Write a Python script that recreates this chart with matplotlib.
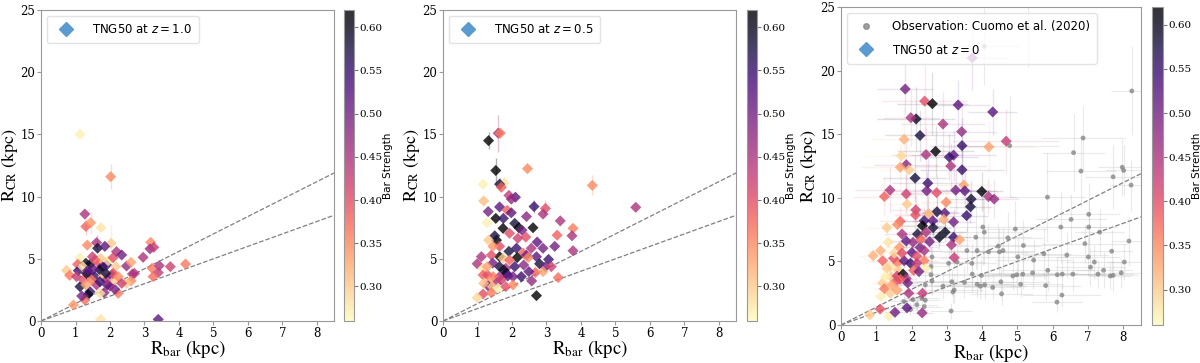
import matplotlib
matplotlib.use("Agg")
import matplotlib.pyplot as plt
from matplotlib.colors import Normalize
from matplotlib.lines import Line2D

plt.rcParams["font.family"] = "DejaVu Serif"
plt.rcParams["mathtext.fontset"] = "dejavusans"

# ---------------------------------------------------------------- TNG50 z=1.0
z1_rbar = [1.13, 2.02, 1.27, 1.30, 1.44, 1.74, 1.34, 1.61, 2.03, 1.64,
           1.85, 1.13, 1.06, 1.30, 1.42, 0.74, 0.83, 1.08, 1.69, 1.77,
           1.90, 1.95, 2.09, 2.19, 2.34, 2.48, 2.61, 2.17, 2.96, 3.18,
           3.16, 3.27, 3.22, 3.43, 3.40, 3.25, 3.75, 4.19, 2.71, 2.65,
           2.61, 2.48, 2.24, 2.14, 2.00, 1.92, 1.83, 1.71, 1.42, 1.37,
           1.27, 1.18, 0.94, 1.73, 3.40, 1.13, 1.23, 1.40, 1.56, 1.71,
           1.80, 1.90, 2.05, 2.14, 1.61, 1.47, 1.32, 1.03, 1.73, 1.56,
           1.52, 1.71, 2.09, 1.88, 1.30, 1.21, 1.49, 1.35, 2.24, 2.34]
z1_rcr = [15.0, 11.6, 8.6, 7.6, 7.9, 7.5, 6.1, 6.3, 6.25, 5.85,
          6.0, 5.07, 4.56, 4.64, 4.56, 4.07, 3.67, 4.05, 4.64, 4.37,
          4.5, 4.85, 5.09, 5.58, 5.31, 4.42, 4.72, 4.37, 5.12, 6.33,
          5.8, 5.92, 4.24, 4.45, 3.89, 3.57, 4.37, 4.58, 3.83, 3.78,
          3.22, 3.03, 2.23, 2.55, 2.8, 2.9, 2.28, 2.23, 2.36, 2.14,
          1.69, 2.01, 1.29, 0.13, 0.13, 2.76, 3.30, 3.83, 3.57, 4.10,
          3.57, 3.30, 3.70, 3.30, 2.90, 3.30, 3.83, 3.57, 5.04, 4.9,
          4.16, 3.16, 3.83, 3.83, 2.90, 4.37, 5.17, 4.05, 3.57, 3.03]
z1_strength = [0.27, 0.35, 0.45, 0.38, 0.34, 0.28, 0.35, 0.45, 0.30, 0.58,
               0.52, 0.27, 0.38, 0.60, 0.60, 0.30, 0.36, 0.55, 0.40, 0.52,
               0.55, 0.28, 0.40, 0.45, 0.50, 0.47, 0.33, 0.30, 0.45, 0.35,
               0.47, 0.43, 0.36, 0.45, 0.43, 0.37, 0.42, 0.36, 0.44, 0.45,
               0.35, 0.30, 0.36, 0.50, 0.47, 0.52, 0.48, 0.28, 0.55, 0.60,
               0.37, 0.50, 0.34, 0.28, 0.52, 0.58, 0.40, 0.45, 0.55, 0.60,
               0.30, 0.45, 0.52, 0.30, 0.45, 0.36, 0.60, 0.43, 0.30, 0.38,
               0.52, 0.55, 0.40, 0.58, 0.33, 0.28, 0.42, 0.52, 0.35, 0.42]
z1_err_rbar = [2.02, 1.44, 1.30, 2.03, 1.61]
z1_err_rcr = [11.6, 7.9, 7.6, 6.25, 6.3]
z1_err_dy = [1.0, 0.9, 0.7, 1.5, 0.6]
z1_err_strength = [0.35, 0.34, 0.38, 0.30, 0.45]

# ---------------------------------------------------------------- TNG50 z=0.5
z05_rbar = [1.32, 1.60, 1.66, 1.53, 2.45, 4.33, 5.59, 1.16, 1.77, 1.64,
            1.69, 1.18, 1.31, 1.28, 1.64, 1.91, 2.10, 1.98, 1.86, 1.98,
            1.53, 1.75, 2.64, 2.97, 2.42, 2.90, 3.40, 2.08, 2.20, 1.74,
            2.61, 2.29, 3.77, 3.31, 3.74, 2.40, 2.73, 2.17, 1.93, 1.55,
            1.50, 2.13, 2.56, 2.90, 3.24, 3.77, 2.32, 2.42, 2.71, 2.15,
            1.91, 1.64, 1.40, 1.11, 0.99, 1.16, 1.16, 1.29, 1.44, 1.64,
            1.82, 2.08, 2.34, 2.47, 3.06, 2.80, 2.97, 3.14, 2.68, 2.90,
            2.49, 2.57, 2.27, 2.03, 1.84, 1.64, 1.45, 1.35, 1.55, 1.31,
            1.43, 1.60, 1.82, 2.03, 1.16, 0.99, 1.40, 3.34, 2.71, 1.28,
            1.74, 1.64, 1.93, 1.45, 1.32, 1.76, 1.88, 1.69, 1.18]
z05_rcr = [14.5, 15.1, 15.1, 12.1, 12.25, 10.9, 9.14, 11.0, 11.1, 11.0,
           10.75, 9.65, 8.8, 7.9, 9.17, 10.1, 9.95, 9.8, 8.9, 8.7,
           8.25, 8.25, 9.2, 9.05, 8.4, 8.6, 8.05, 7.85, 7.5, 7.45,
           7.5, 7.3, 7.45, 6.9, 6.85, 6.75, 6.35, 6.65, 7.05, 6.5,
           6.85, 5.85, 5.85, 5.85, 6.0, 5.65, 5.45, 5.3, 5.17, 5.1,
           5.6, 5.17, 5.3, 5.17, 4.6, 4.24, 3.7, 3.7, 4.65, 4.37,
           4.24, 4.37, 4.5, 5.1, 4.95, 4.6, 4.37, 4.37, 3.9, 3.97,
           3.97, 3.22, 3.57, 3.57, 3.83, 3.57, 3.57, 3.16, 3.03, 2.82,
           2.76, 2.63, 2.76, 2.9, 2.17, 1.88, 2.28, 3.49, 2.04, 4.37,
           5.04, 6.0, 4.9, 6.0, 6.5, 4.1, 3.62, 3.30, 3.03]
z05_strength = [0.62, 0.45, 0.36, 0.62, 0.35, 0.35, 0.45, 0.27, 0.28, 0.58,
                0.38, 0.31, 0.50, 0.27, 0.52, 0.43, 0.52, 0.47, 0.38, 0.52,
                0.62, 0.55, 0.55, 0.40, 0.48, 0.45, 0.45, 0.58, 0.62, 0.62,
                0.62, 0.50, 0.36, 0.38, 0.45, 0.40, 0.52, 0.42, 0.40, 0.62,
                0.58, 0.55, 0.45, 0.50, 0.50, 0.45, 0.38, 0.50, 0.52, 0.62,
                0.58, 0.62, 0.40, 0.45, 0.45, 0.28, 0.38, 0.40, 0.50, 0.58,
                0.45, 0.55, 0.48, 0.35, 0.55, 0.58, 0.50, 0.42, 0.38, 0.33,
                0.52, 0.47, 0.55, 0.50, 0.55, 0.45, 0.36, 0.33, 0.45, 0.50,
                0.30, 0.27, 0.40, 0.35, 0.40, 0.29, 0.36, 0.37, 0.62, 0.33,
                0.30, 0.40, 0.38, 0.34, 0.30, 0.60, 0.52, 0.42, 0.31]
z05_err_rbar = [1.60, 1.53, 1.32, 4.33, 2.97, 2.64, 1.77, 1.64]
z05_err_rcr = [15.1, 12.1, 14.5, 10.9, 9.05, 9.2, 11.1, 11.0]
z05_err_dy = [1.5, 1.0, 0.7, 0.8, 0.7, 0.5, 0.6, 0.5]
z05_err_strength = [0.45, 0.62, 0.62, 0.35, 0.40, 0.55, 0.28, 0.58]

# ---------------------------------------------------------------- TNG50 z=0
z0_rbar = [3.72, 1.82, 2.37, 2.59, 3.32, 4.30, 2.13, 1.98, 2.24, 2.89,
           3.42, 3.43, 4.68, 4.19, 1.79, 2.68, 2.41, 3.19, 3.07, 1.71,
           1.85, 1.68, 1.93, 3.11, 3.43, 2.10, 2.46, 3.48, 1.39, 1.23,
           1.85, 3.99, 4.18, 4.34, 3.25, 3.51, 3.69, 3.67, 3.56, 2.71,
           2.43, 2.98, 1.87, 2.12, 2.72, 2.94, 2.48, 2.11, 2.36, 2.60,
           3.19, 2.91, 1.68, 1.60, 1.30, 1.73, 2.17, 2.31, 2.41, 2.61,
           2.79, 2.95, 3.19, 3.36, 3.13, 3.21, 1.85, 2.04, 2.24, 2.01,
           2.15, 2.36, 2.36, 1.66, 1.34, 1.12, 0.91, 1.18, 1.40, 1.61,
           1.79, 1.97, 2.15, 2.40, 1.62, 1.30, 1.42, 1.59, 1.76, 1.85,
           1.68, 1.57, 1.89, 1.44, 1.18, 1.23, 1.40, 1.59, 1.92, 2.31,
           1.11, 1.36, 1.53, 1.87, 2.30, 0.82, 1.14, 1.26, 2.06, 2.21,
           1.49, 2.26, 2.51, 1.51, 1.73]
z0_rcr = [21.0, 18.55, 17.6, 17.4, 17.3, 16.75, 16.2, 16.3, 14.9, 15.8,
          15.2, 14.1, 14.45, 14.0, 14.6, 13.65, 13.4, 13.35, 13.2, 13.3,
          12.6, 12.4, 12.2, 12.5, 12.2, 11.55, 11.15, 11.0, 10.6, 10.1,
          10.3, 10.5, 10.1, 9.9, 10.6, 10.55, 9.9, 9.3, 8.6, 10.4,
          10.55, 9.65, 9.5, 9.05, 8.9, 8.8, 8.75, 8.65, 8.2, 8.2,
          8.1, 8.3, 8.15, 7.9, 7.65, 7.15, 7.15, 7.8, 7.3, 7.65,
          6.9, 7.3, 6.9, 6.7, 6.3, 5.3, 6.6, 6.5, 6.1, 5.7,
          5.4, 5.05, 5.85, 6.1, 6.5, 5.85, 5.45, 5.05, 4.6, 4.9,
          5.05, 4.85, 4.85, 4.45, 4.3, 4.45, 3.8, 3.85, 4.0, 3.65,
          3.6, 3.45, 3.3, 3.15, 3.3, 2.85, 2.5, 2.75, 2.5, 2.5,
          1.25, 0.7, 1.0, 1.35, 0.95, 0.8, 2.25, 3.8, 4.3, 4.2,
          5.25, 6.75, 6.55, 5.65, 5.65]
z0_strength = [0.50, 0.50, 0.40, 0.62, 0.52, 0.52, 0.60, 0.45, 0.58, 0.45,
               0.47, 0.55, 0.43, 0.33, 0.32, 0.62, 0.45, 0.52, 0.55, 0.29,
               0.48, 0.33, 0.30, 0.45, 0.55, 0.58, 0.55, 0.33, 0.45, 0.38,
               0.42, 0.62, 0.45, 0.47, 0.50, 0.52, 0.58, 0.58, 0.55, 0.40,
               0.50, 0.35, 0.30, 0.42, 0.58, 0.52, 0.32, 0.40, 0.55, 0.52,
               0.50, 0.32, 0.38, 0.35, 0.30, 0.45, 0.58, 0.62, 0.45, 0.58,
               0.60, 0.60, 0.55, 0.33, 0.45, 0.43, 0.52, 0.47, 0.50, 0.52,
               0.40, 0.36, 0.45, 0.34, 0.28, 0.32, 0.32, 0.38, 0.28, 0.36,
               0.52, 0.55, 0.43, 0.27, 0.30, 0.30, 0.30, 0.42, 0.62, 0.45,
               0.38, 0.40, 0.50, 0.33, 0.30, 0.36, 0.30, 0.33, 0.45, 0.43,
               0.40, 0.27, 0.50, 0.52, 0.47, 0.30, 0.27, 0.27, 0.38, 0.50,
               0.40, 0.38, 0.50, 0.29, 0.40]
z0_xerr = [1.0, 0.8, 1.2, 1.0, 0.9, 0.7, 1.1, 0.8, 1.0, 1.2,
           1.0, 0.9, 1.5, 1.3, 0.9, 1.1, 1.0, 1.2, 0.8, 1.0,
           0.9, 1.1, 0.8, 1.0, 1.2, 0.9, 1.0, 0.8, 1.0, 0.9,
           0.7, 0.6, 0.8, 0.7, 1.0, 0.9, 0.7, 0.6, 0.6, 0.8,
           0.9, 0.7, 0.8, 0.7, 0.6, 0.7, 0.8, 0.6, 0.7, 0.6,
           0.6, 0.7, 0.6, 0.5, 0.6, 0.5, 0.5, 0.6, 0.5, 0.5,
           0.5, 0.6, 0.5, 0.4, 0.5, 0.4, 0.5, 0.4, 0.5, 0.4,
           0.4, 0.4, 0.5, 0.4, 0.5, 0.4, 0.4, 0.4, 0.3, 0.4,
           0.4, 0.3, 0.4, 0.4, 0.3, 0.3, 0.3, 0.4, 0.3, 0.3,
           0.3, 0.3, 0.3, 0.3, 0.3, 0.3, 0.3, 0.3, 0.3, 0.3,
           0.3, 0.2, 0.3, 0.3, 0.3, 0.2, 0.3, 0.3, 0.3, 0.3,
           0.3, 0.4, 0.4, 0.3, 0.3]
z0_yerr = [2.5, 2.0, 3.0, 2.5, 2.0, 1.8, 2.5, 2.2, 2.0, 2.5,
           2.0, 2.2, 2.5, 2.0, 2.5, 2.0, 2.2, 2.0, 1.8, 2.2,
           2.0, 1.8, 2.0, 1.8, 2.0, 1.8, 2.0, 1.5, 1.8, 1.5,
           1.6, 1.5, 1.4, 1.5, 1.6, 1.5, 1.4, 1.3, 1.2, 1.5,
           1.5, 1.3, 1.4, 1.2, 1.2, 1.3, 1.2, 1.2, 1.1, 1.1,
           1.0, 1.1, 1.2, 1.0, 1.0, 0.9, 0.9, 1.0, 0.9, 0.9,
           0.9, 0.8, 0.8, 0.8, 0.8, 0.7, 0.8, 0.7, 0.7, 0.7,
           0.7, 0.6, 0.7, 0.7, 0.8, 0.6, 0.6, 0.6, 0.6, 0.6,
           0.6, 0.5, 0.5, 0.5, 0.5, 0.5, 0.5, 0.5, 0.5, 0.5,
           0.5, 0.5, 0.5, 0.4, 0.4, 0.4, 0.4, 0.4, 0.4, 0.4,
           0.3, 0.3, 0.3, 0.3, 0.3, 0.3, 0.4, 0.4, 0.5, 0.5,
           0.6, 0.7, 0.7, 0.6, 0.6]

# ------------------------------------------------- Cuomo et al. (2020) sample
obs_rbar = [8.24, 6.86, 6.59, 6.80, 7.97, 8.01, 7.71, 8.22, 5.85, 4.78,
            7.02, 6.52, 6.23, 7.02, 7.33, 8.16, 6.91, 4.02, 4.06, 4.94,
            5.17, 4.46, 3.82, 3.86, 4.18, 4.73, 4.59, 5.01, 5.46, 5.75,
            6.40, 7.01, 7.67, 8.03, 7.94, 7.07, 7.18, 5.86, 6.13, 6.27,
            6.57, 7.28, 7.44, 7.63, 7.71, 4.98, 5.43, 5.15, 4.87, 5.09,
            4.53, 4.30, 4.55, 5.80, 6.12, 6.26, 3.72, 3.98, 3.50, 3.86,
            4.07, 3.95, 3.71, 3.57, 3.29, 3.05, 2.89, 3.14, 3.17, 3.21,
            3.12, 2.55, 2.55, 2.58, 2.39, 2.29, 2.39, 2.15, 2.36, 2.04,
            1.97, 1.78, 2.58, 4.06, 5.30, 4.49]
obs_rcr = [18.4, 14.7, 13.55, 12.1, 12.4, 12.15, 11.65, 11.0, 10.05, 14.1,
           8.7, 8.3, 7.7, 7.7, 7.3, 6.6, 6.4, 7.7, 7.3, 7.55,
           6.25, 6.2, 6.9, 5.85, 5.75, 6.85, 5.85, 5.35, 5.1, 5.6,
           5.5, 5.35, 5.8, 4.95, 4.1, 4.55, 4.95, 4.3, 3.95, 4.0,
           4.0, 4.0, 4.3, 3.85, 3.9, 3.95, 4.1, 4.0, 3.85, 3.2,
           3.4, 2.95, 2.45, 3.1, 1.8, 2.35, 4.0, 3.9, 3.35, 3.2,
           3.15, 3.05, 4.85, 5.85, 4.95, 4.85, 3.05, 3.4, 2.6, 2.75,
           1.1, 4.6, 3.95, 3.45, 3.15, 2.1, 1.95, 1.6, 1.45, 2.0,
           1.2, 1.85, 5.35, 21.9, 23.3, 5.75]
obs_xerr = [0.6, 1.2, 0.9, 1.0, 0.7, 0.5, 0.8, 0.6, 1.1, 1.4,
            0.9, 1.0, 1.3, 0.8, 0.7, 0.5, 1.2, 1.5, 1.1, 0.9,
            1.0, 1.2, 1.6, 0.8, 1.3, 1.0, 0.9, 1.4, 1.1, 0.8,
            1.2, 0.9, 0.6, 0.5, 0.7, 1.0, 0.8, 1.3, 1.5, 1.2,
            0.9, 1.0, 0.8, 0.6, 0.7, 1.1, 1.3, 0.9, 1.0, 1.2,
            1.4, 0.8, 0.9, 1.0, 0.7, 1.1, 1.2, 0.8, 1.5, 1.0,
            0.9, 1.3, 0.7, 1.1, 0.8, 0.6, 0.9, 1.0, 0.7, 0.8,
            0.6, 0.5, 0.7, 0.6, 0.8, 0.5, 0.4, 0.6, 0.5, 0.4,
            0.5, 0.4, 0.6, 1.0, 0.9, 0.8]
obs_yerr = [3.5, 2.5, 3.0, 2.8, 2.2, 2.0, 2.5, 2.0, 3.5, 4.0,
            2.5, 2.0, 2.8, 2.2, 1.8, 2.0, 1.5, 3.0, 2.5, 2.2,
            2.0, 1.8, 2.5, 1.5, 2.2, 2.0, 1.8, 1.5, 1.6, 2.0,
            1.8, 1.5, 1.7, 1.4, 1.2, 1.5, 1.3, 1.6, 1.4, 1.2,
            1.3, 1.1, 1.4, 1.0, 1.2, 1.5, 1.3, 1.2, 1.1, 1.0,
            1.2, 1.0, 0.9, 1.1, 0.8, 0.9, 1.4, 1.3, 1.2, 1.0,
            1.1, 1.0, 1.6, 1.8, 1.5, 1.4, 1.0, 1.1, 0.9, 1.0,
            0.6, 1.5, 1.2, 1.1, 1.0, 0.8, 0.7, 0.6, 0.6, 0.7,
            0.5, 0.6, 1.6, 3.0, 3.0, 1.8]

# corotation / bar-length reference ratios
ratio_lines = [1.4, 1.0]

cmap = plt.get_cmap("magma_r")
norm = Normalize(vmin=0.26, vmax=0.62)
tng_blue = "#5b9bd0"


def style_axis(ax, ylab_x):
    ax.set_xlim(0, 8.5)
    ax.set_ylim(0, 25)
    ax.set_xticks(range(0, 9))
    ax.set_yticks([0, 5, 10, 15, 20, 25])
    for sp in ax.spines.values():
        sp.set_color("#999999")
    ax.tick_params(labelsize=8.5, length=3, color="#999999", pad=1)
    ax.set_xlabel(r"R$_{\rm bar}$ (kpc)", family="STIXGeneral",
                  math_fontfamily="stix", fontsize=13.5, labelpad=-1)
    ax.set_ylabel(r"R$_{\rm CR}$ (kpc)", family="STIXGeneral",
                  math_fontfamily="stix", fontsize=13)
    ax.yaxis.set_label_coords(ylab_x, 0.5)
    for r in ratio_lines:
        ax.plot([0, 8.5], [0, 8.5 * r], ls="--", color="gray", lw=0.9, zorder=1)


def add_cbar(fig, sc, rect):
    cax = fig.add_axes(rect)
    cb = fig.colorbar(sc, cax=cax)
    cb.set_ticks([0.30, 0.35, 0.40, 0.45, 0.50, 0.55, 0.60])
    cb.ax.tick_params(labelsize=7.5, length=3, color="#777777", pad=1)
    cb.outline.set_edgecolor("#999999")
    cb.set_label("Bar Strength", family="DejaVu Sans", fontsize=7.5, labelpad=0)


def small_errs(ax, xs, ys, dys, ss):
    for x, y, dy, s in zip(xs, ys, dys, ss):
        ax.errorbar(x, y, yerr=dy, fmt="none", ecolor=cmap(norm(s)),
                    alpha=0.3, lw=1, zorder=2)


def tng_legend(ax, label, extra=None):
    handles = [] if extra is None else list(extra)
    handles.append(Line2D([], [], ls="none", marker="D", color=tng_blue,
                          markersize=7, label=label))
    leg = ax.legend(handles=handles, loc="upper left",
                    prop={"family": "DejaVu Sans", "size": 8.5},
                    handletextpad=1.2, borderpad=0.6, labelspacing=0.9)
    leg.get_frame().set_edgecolor("#dddddd")


fig = plt.figure(figsize=(12, 3.63), dpi=100)

# ---- panel z=1.0
ax1 = fig.add_axes([0.0342, 0.1157, 0.2442, 0.8567])
style_axis(ax1, -0.072)
small_errs(ax1, z1_err_rbar, z1_err_rcr, z1_err_dy, z1_err_strength)
sc1 = ax1.scatter(z1_rbar, z1_rcr, c=z1_strength, cmap=cmap, norm=norm,
                  marker="D", s=32, alpha=0.8, edgecolors="none", zorder=3)
tng_legend(ax1, r"TNG50 at $z = 1.0$")
add_cbar(fig, sc1, [0.2867, 0.1157, 0.0083, 0.8567])

# ---- panel z=0.5
ax2 = fig.add_axes([0.3692, 0.1157, 0.2442, 0.8567])
style_axis(ax2, -0.072)
small_errs(ax2, z05_err_rbar, z05_err_rcr, z05_err_dy, z05_err_strength)
sc2 = ax2.scatter(z05_rbar, z05_rcr, c=z05_strength, cmap=cmap, norm=norm,
                  marker="D", s=32, alpha=0.8, edgecolors="none", zorder=3)
tng_legend(ax2, r"TNG50 at $z = 0.5$")
add_cbar(fig, sc2, [0.6225, 0.1157, 0.0083, 0.8567])

# ---- panel z=0 with observations
ax3 = fig.add_axes([0.7008, 0.1047, 0.25, 0.876])
style_axis(ax3, -0.072)
ax3.errorbar(obs_rbar, obs_rcr, xerr=obs_xerr, yerr=obs_yerr, fmt="none",
             ecolor="#bbbbbb", alpha=0.3, lw=0.8, zorder=1)
ax3.scatter(obs_rbar, obs_rcr, color="gray", s=12, alpha=0.75,
            edgecolors="none", zorder=2)
for x, y, dx, dy, s in zip(z0_rbar, z0_rcr, z0_xerr, z0_yerr, z0_strength):
    ax3.errorbar(x, y, xerr=dx, yerr=dy, fmt="none", ecolor=cmap(norm(s)),
                 alpha=0.12, lw=1, zorder=2)
sc3 = ax3.scatter(z0_rbar, z0_rcr, c=z0_strength, cmap=cmap, norm=norm,
                  marker="D", s=32, alpha=0.8, edgecolors="none", zorder=3)
obs_handle = Line2D([], [], ls="none", marker="o", color="gray", alpha=0.75,
                    markersize=4, label="Observation: Cuomo et al. (2020)")
tng_legend(ax3, r"TNG50 at $z = 0$", extra=[obs_handle])
add_cbar(fig, sc3, [0.96, 0.1047, 0.0092, 0.876])

fig.savefig("out.png", dpi=100)
